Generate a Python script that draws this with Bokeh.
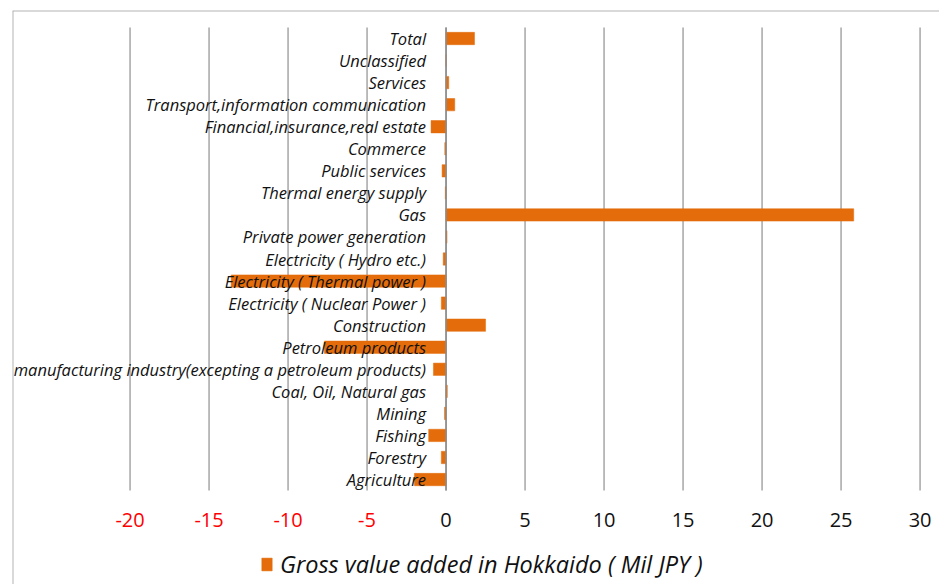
from bokeh.plotting import figure
from bokeh.models import (Range1d, LinearAxis, FixedTicker, Span, Legend, LegendItem,
                          ColumnDataSource)
from bokeh.core.properties import value
from bokeh.embed import file_html
from bokeh.resources import INLINE

# Data (bottom to top, as drawn)
categories = [
    "Agriculture",
    "Forestry",
    "Fishing",
    "Mining",
    "Coal, Oil, Natural gas",
    "manufacturing industry(excepting a petroleum products)",
    "Petroleum products",
    "Construction",
    "Electricity ( Nuclear Power )",
    "Electricity ( Thermal power )",
    "Electricity ( Hydro etc.)",
    "Private power generation",
    "Gas",
    "Thermal energy supply",
    "Public services",
    "Commerce",
    "Financial,insurance,real estate",
    "Transport,information communication",
    "Services",
    "Unclassified",
    "Total",
]
values = [-2.0, -0.3, -1.1, -0.1, 0.08, -0.8, -7.7, 2.5, -0.3, -13.6, -0.18, 0.06,
          25.8, -0.05, -0.25, -0.08, -0.95, 0.55, 0.17, 0.0, 1.8]
neg_ticks = [-20, -15, -10, -5]
pos_ticks = [0, 5, 10, 15, 20, 25, 30]
series_name = "Gross value added in Hokkaido ( Mil JPY )"

n = len(categories)
idx = list(range(n))
src = ColumnDataSource(dict(y=idx, cat=categories, v=values, zero=[0] * n))

BAR = "#E46C0A"
GRID = "#a6a6a6"

p = figure(width=939, height=584, output_backend="svg", toolbar_location=None,
           x_axis_type=None, y_axis_type=None,
           x_range=Range1d(-27.44, 31.23), y_range=Range1d(-4.76, 21.27),
           min_border_left=12, min_border_top=10, min_border_right=0, min_border_bottom=0)
p.outline_line_color = None
p.xgrid.visible = False
p.ygrid.visible = False
p.background_fill_color = "white"
p.border_fill_color = "white"

all_ticks = neg_ticks + pos_ticks
# vertical gridlines over the category band
p.segment(x0=all_ticks, x1=all_ticks, y0=[-0.5] * len(all_ticks), y1=[n - 0.5] * len(all_ticks),
          line_color=GRID, line_width=1.5)

bars = p.hbar(y="y", left="zero", right="v", height=0.56, source=src,
              fill_color=BAR, line_color=BAR, line_width=0.5)

# category axis line at zero
p.segment(x0=[0], x1=[0], y0=[-0.5], y1=[n - 0.5], line_color="#8c8c8c", line_width=1.5)

# category labels next to the axis
p.text(x="zero", y="y", text="cat", source=src, x_offset=-20,
       text_align="right", text_baseline="middle",
       text_font=value("Open Sans"), text_font_style="italic",
       text_font_size="16.5px", text_color="#111111")

# value axes (negative labels in red)
for ticks, col in ((neg_ticks, "#ff0000"), (pos_ticks, "#111111")):
    ax = LinearAxis(ticker=FixedTicker(ticks=ticks), fixed_location=-0.5)
    ax.axis_line_color = None
    ax.major_tick_line_color = None
    ax.minor_tick_line_color = None
    ax.major_label_standoff = 16
    ax.major_label_text_font = "Open Sans"
    ax.major_label_text_font_size = "20px"
    ax.major_label_text_color = col
    ax.major_label_overrides = {t: str(t) for t in ticks}
    p.add_layout(ax, "below")

# chart border (top and left)
p.add_layout(Span(location=-27.44, dimension="height", line_color="#b3b3b3", line_width=2))
p.add_layout(Span(location=21.27, dimension="width", line_color="#b3b3b3", line_width=2))

legend = Legend(items=[LegendItem(label=series_name, renderers=[bars])],
                location=(248, 4), orientation="horizontal",
                glyph_width=13, glyph_height=16, label_standoff=7,
                padding=0, margin=0, spacing=0,
                label_text_font="Open Sans", label_text_font_style="italic",
                label_text_font_size="23.5px", label_text_color="#111111",
                border_line_color=None, background_fill_alpha=0)
p.add_layout(legend)

open("out.html", "w").write(file_html(p, INLINE))
